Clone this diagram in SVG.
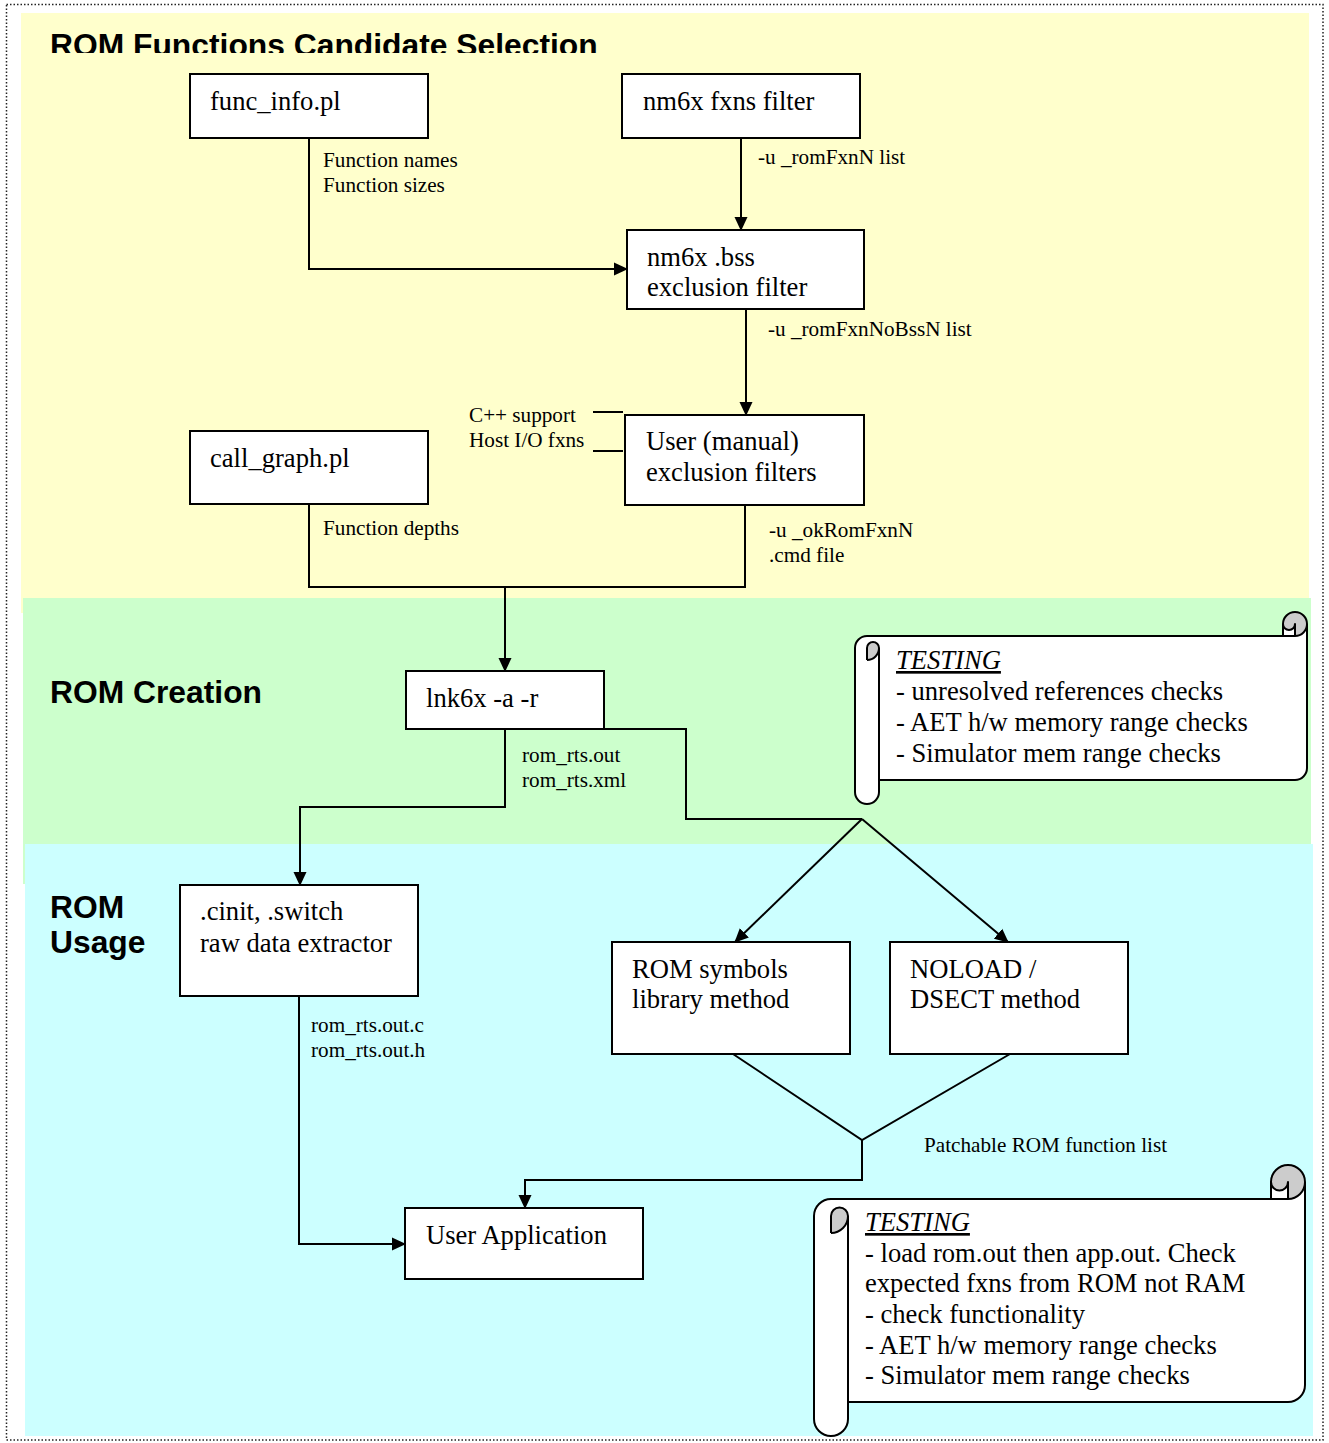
<svg xmlns="http://www.w3.org/2000/svg" width="1329" height="1443" viewBox="0 0 1329 1443">
<style>
.box{fill:#fff;stroke:#000;stroke-width:2}
.t{font-family:"Liberation Serif","Times New Roman",serif;font-size:26.6px;fill:#000}
.s{font-family:"Liberation Serif","Times New Roman",serif;font-size:21.2px;fill:#000}
.h{font-family:"Liberation Sans",Arial,sans-serif;font-size:31.8px;font-weight:bold;fill:#000}
.c{fill:none;stroke:#000;stroke-width:2}
.ca{fill:none;stroke:#000;stroke-width:2;marker-end:url(#arr)}
.sf{fill:#fff;stroke:none}
.sg{fill:#cccccc;stroke:none}
.ss{fill:none;stroke:#000;stroke-width:2;stroke-linejoin:round}
</style>
<defs>
<marker id="arr" viewBox="0 0 14 14" markerWidth="14" markerHeight="14" refX="13" refY="7" orient="auto" markerUnits="userSpaceOnUse">
<path d="M0,0.5 L14,7 L0,13.5 Z" fill="#000"/>
</marker>
<clipPath id="titleclip"><rect x="0" y="0" width="1329" height="53"/></clipPath>
</defs>
<rect x="0" y="0" width="1329" height="1443" fill="#fff"/>
<g id="bands">
<rect x="21" y="13" width="1288" height="600" fill="#ffffcc"/>
<rect x="23" y="598" width="1288" height="286" fill="#ccffcc"/>
<rect x="25" y="844" width="1288" height="592" fill="#ccffff"/>
<rect x="6.5" y="4.5" width="1316.5" height="1435.5" fill="none" stroke="#222" stroke-width="1.5" stroke-dasharray="1.5 2"/>
</g>
<g id="headers">
<text class="h" x="50" y="56" clip-path="url(#titleclip)">ROM Functions Candidate Selection</text>
<text class="h" x="50" y="703">ROM Creation</text>
<text class="h" x="50" y="918">ROM</text>
<text class="h" x="50" y="953">Usage</text>
</g>
<g id="connectors">
<path class="ca" d="M309,138 V269 H627"/>
<path class="ca" d="M741,138 V230"/>
<path class="ca" d="M746,309 V415"/>
<path class="c" d="M309,504 V587 H745 V505"/>
<path class="ca" d="M505,587 V671"/>
<path class="ca" d="M505,729 V807 H300 V885"/>
<path class="c" d="M604,729 H686 V819 H862"/>
<path class="ca" d="M862,819 L735,942"/>
<path class="ca" d="M862,819 L1008,942"/>
<path class="c" d="M733,1054 L862,1140 L1010,1054"/>
<path class="ca" d="M862,1140 V1180 H525 V1208"/>
<path class="ca" d="M299,996 V1244 H405"/>
<path class="c" d="M593,412 H623 M593,451 H623"/>
</g>
<g id="labels">
<text class="s" x="323" y="167">Function names</text>
<text class="s" x="323" y="192">Function sizes</text>
<text class="s" x="758" y="164">-u _romFxnN list</text>
<text class="s" x="768" y="336">-u _romFxnNoBssN list</text>
<text class="s" x="469" y="422">C++ support</text>
<text class="s" x="469" y="447">Host I/O fxns</text>
<text class="s" x="323" y="535">Function depths</text>
<text class="s" x="769" y="537">-u _okRomFxnN</text>
<text class="s" x="769" y="562">.cmd file</text>
<text class="s" x="522" y="762">rom_rts.out</text>
<text class="s" x="522" y="787">rom_rts.xml</text>
<text class="s" x="311" y="1032">rom_rts.out.c</text>
<text class="s" x="311" y="1057">rom_rts.out.h</text>
<text class="s" x="924" y="1152">Patchable ROM function list</text>
</g>
<g id="func_info">
<rect class="box" x="190" y="74" width="238" height="64"/>
<text class="t" x="210" y="110">func_info.pl</text>
</g>
<g id="nm6x_fxns">
<rect class="box" x="622" y="74" width="238" height="64"/>
<text class="t" x="643" y="110">nm6x fxns filter</text>
</g>
<g id="nm6x_bss">
<rect class="box" x="627" y="230" width="237" height="79"/>
<text class="t" x="647" y="266">nm6x .bss</text>
<text class="t" x="647" y="296">exclusion filter</text>
</g>
<g id="user_filters">
<rect class="box" x="625" y="415" width="239" height="90"/>
<text class="t" x="646" y="450">User (manual)</text>
<text class="t" x="646" y="481">exclusion filters</text>
</g>
<g id="call_graph">
<rect class="box" x="190" y="431" width="238" height="73"/>
<text class="t" x="210" y="467">call_graph.pl</text>
</g>
<g id="lnk6x">
<rect class="box" x="406" y="671" width="198" height="58"/>
<text class="t" x="426" y="707">lnk6x -a -r</text>
</g>
<g id="cinit">
<rect class="box" x="180" y="885" width="238" height="111"/>
<text class="t" x="200" y="920">.cinit, .switch</text>
<text class="t" x="200" y="952">raw data extractor</text>
</g>
<g id="rom_symbols">
<rect class="box" x="612" y="942" width="238" height="112"/>
<text class="t" x="632" y="978">ROM symbols</text>
<text class="t" x="632" y="1008">library method</text>
</g>
<g id="noload">
<rect class="box" x="890" y="942" width="238" height="112"/>
<text class="t" x="910" y="978">NOLOAD /</text>
<text class="t" x="910" y="1008">DSECT method</text>
</g>
<g id="user_app">
<rect class="box" x="405" y="1208" width="238" height="71"/>
<text class="t" x="426" y="1244">User Application</text>
</g>
<g id="testing1">
<path class="sf" d="M1307,624 A12 12 0 0 1 1295 636 L1295,624 A6 6 0 0 1 1283 624 L1283,636 L867,636 A12 12 0 0 0 855 648 L855,792 A12 12 0 0 0 879 792 L879,780 L1295,780 A12 12 0 0 0 1307 768 Z M867,660 A12 12 0 0 0 879 648 A6 6 0 0 0 867 648 Z"/>
<path class="sg" d="M867,660 A12 12 0 0 0 879 648 A6 6 0 0 0 867 648 Z M1295,636 A12 12 0 1 0 1283 624 A6 6 0 0 0 1295 624 Z"/>
<path class="ss" d="M855,648 A12 12 0 0 1 867 636 L1283,636 L1283,624 A12 12 0 0 1 1307 624 L1307,768 A12 12 0 0 1 1295 780 L879,780 L879,792 A12 12 0 0 1 855 792 Z M1283,636 L1295,636 A12 12 0 0 0 1307 624 M1295,636 L1295,624 A6 6 0 0 1 1283 624 M867,660 L867,648 A6 6 0 0 1 879 648 A12 12 0 0 1 867 660 M879,648 L879,780"/>
<text class="t" x="896" y="669" font-style="italic" text-decoration="underline">TESTING</text>
<text class="t" x="896" y="700">- unresolved references checks</text>
<text class="t" x="896" y="731">- AET h/w memory range checks</text>
<text class="t" x="896" y="762">- Simulator mem range checks</text>
</g>
<g id="testing2">
<path class="sf" d="M1305,1182 A17 17 0 0 1 1288 1199 L1288,1182 A8.5 8.5 0 0 1 1271 1182 L1271,1199 L831,1199 A17 17 0 0 0 814 1216 L814,1419 A17 17 0 0 0 848 1419 L848,1402 L1288,1402 A17 17 0 0 0 1305 1385 Z M831,1233 A17 17 0 0 0 848 1216 A8.5 8.5 0 0 0 831 1216 Z"/>
<path class="sg" d="M831,1233 A17 17 0 0 0 848 1216 A8.5 8.5 0 0 0 831 1216 Z M1288,1199 A17 17 0 1 0 1271 1182 A8.5 8.5 0 0 0 1288 1182 Z"/>
<path class="ss" d="M814,1216 A17 17 0 0 1 831 1199 L1271,1199 L1271,1182 A17 17 0 0 1 1305 1182 L1305,1385 A17 17 0 0 1 1288 1402 L848,1402 L848,1419 A17 17 0 0 1 814 1419 Z M1271,1199 L1288,1199 A17 17 0 0 0 1305 1182 M1288,1199 L1288,1182 A8.5 8.5 0 0 1 1271 1182 M831,1233 L831,1216 A8.5 8.5 0 0 1 848 1216 A17 17 0 0 1 831 1233 M848,1216 L848,1402"/>
<text class="t" x="865" y="1231" font-style="italic" text-decoration="underline">TESTING</text>
<text class="t" x="865" y="1262">- load rom.out then app.out. Check</text>
<text class="t" x="865" y="1292">expected fxns from ROM not RAM</text>
<text class="t" x="865" y="1323">- check functionality</text>
<text class="t" x="865" y="1354">- AET h/w memory range checks</text>
<text class="t" x="865" y="1384">- Simulator mem range checks</text>
</g>
</svg>
